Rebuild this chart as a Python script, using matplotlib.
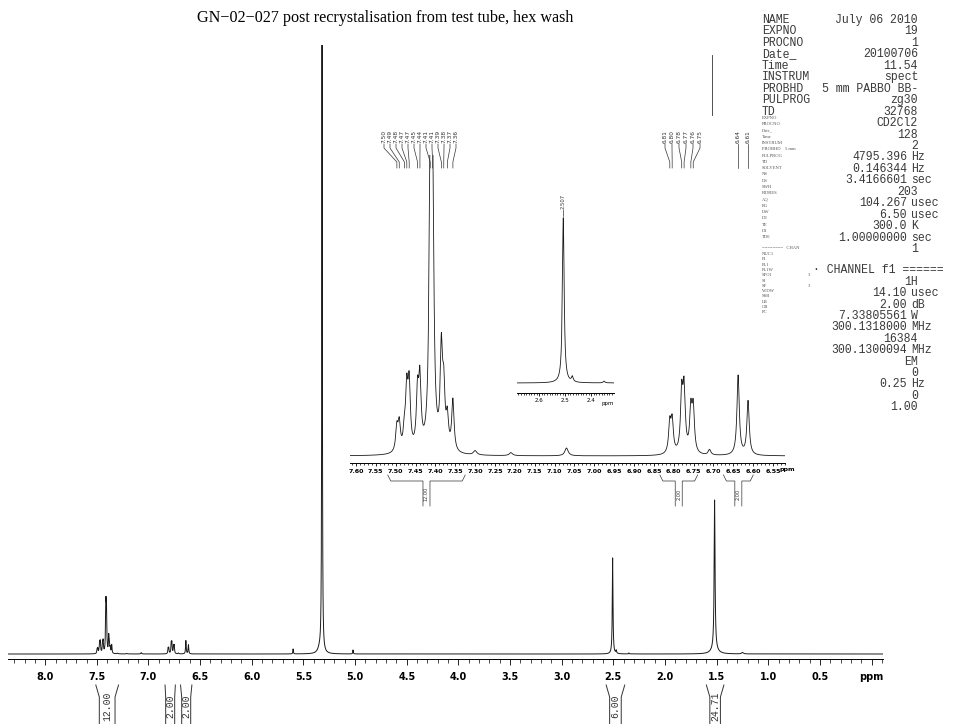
import numpy as np
import matplotlib
matplotlib.use('Agg')
import matplotlib.pyplot as plt
from matplotlib.lines import Line2D
from matplotlib.ticker import MultipleLocator, FuncFormatter

W, H = 954, 724

# peak table: shift (ppm), height (plot units), half width (ppm)
arom_ppm = [7.497, 7.491, 7.478, 7.472, 7.466, 7.445, 7.439,
            7.413, 7.407, 7.385, 7.379, 7.370, 7.356]
arom_height = [4.0, 4.5, 3.0, 9.5, 10.5, 9.0, 11.0,
               45.0, 44.0, 16.0, 9.0, 5.0, 8.5]
olef_ppm = [6.810, 6.804, 6.780, 6.774, 6.757, 6.751, 6.638, 6.613]
olef_height = [5.0, 5.3, 9.6, 10.2, 7.0, 7.3, 13.3, 9.0]
other_ppm = [5.320, 5.345, 5.600, 5.020, 2.507, 2.472, 2.350,
             1.520, 1.520, 1.250, 7.070, 7.300, 7.210, 6.710]
other_height = [900.0, 4.0, 5.0, 4.0, 96.0, 3.0, 1.0,
                148.0, 6.0, 1.5, 1.3, 0.7, 0.5, 0.9]
other_hw = [0.0025, 0.02, 0.003, 0.003, 0.004, 0.004, 0.004,
            0.005, 0.03, 0.01, 0.005, 0.005, 0.005, 0.004]

peak_ppm = arom_ppm + olef_ppm + other_ppm
peak_height = arom_height + olef_height + other_height
peak_hw = [0.0035] * (len(arom_ppm) + len(olef_ppm)) + other_hw

# picked peak labels
arom_labels = ['7.50', '7.49', '7.48', '7.47', '7.47', '7.45', '7.44',
               '7.41', '7.41', '7.39', '7.38', '7.37', '7.36']
olef_labels = ['6.81', '6.80', '6.78', '6.77', '6.76', '6.75']
olef2_labels = ['6.64', '6.61']

# integrals: (from ppm, to ppm, value)
main_integrals = [(7.51, 7.29, '12.00'), (6.84, 6.74, '2.00'),
                  (6.69, 6.58, '2.00'), (2.57, 2.39, '6.00'),
                  (1.60, 1.43, '24.71')]
inset_integrals = [(7.52, 7.325, '12.00'), (6.835, 6.74, '2.00'),
                   (6.675, 6.60, '2.00')]

title = 'GN\u221202\u2212027 post recrystalisation from test tube, hex wash'

par_names = ['NAME', 'EXPNO', 'PROCNO', 'Date_', 'Time', 'INSTRUM',
             'PROBHD', 'PULPROG', 'TD']
par_values = [('July 06 2010', ''), ('19', ''), ('1', ''), ('20100706', ''),
              ('11.54', ''), ('spect', ''), ('5 mm PABBO BB-', ''),
              ('zg30', ''), ('32768', ''), ('CD2Cl2', ''), ('128', ''),
              ('2', ''), ('4795.396', 'Hz'), ('0.146344', 'Hz'),
              ('3.4166601', 'sec'), ('203', ''), ('104.267', 'usec'),
              ('6.50', 'usec'), ('300.0', 'K'), ('1.00000000', 'sec'),
              ('1', '')]
chan_values = [('1H', ''), ('14.10', 'usec'), ('2.00', 'dB'),
               ('7.33805561', 'W'), ('300.1318000', 'MHz'), ('16384', ''),
               ('300.1300094', 'MHz'), ('EM', ''), ('0', ''),
               ('0.25', 'Hz'), ('0', ''), ('1.00', '')]
small_names = ['EXPNO', 'PROCNO', 'Date_', 'Time', 'INSTRUM',
               'PROBHD    5 mm', 'PULPROG', 'TD', 'SOLVENT', 'NS', 'DS',
               'SWH', 'FIDRES', 'AQ', 'RG', 'DW', 'DE', 'TE', 'D1', 'TD0']
small_chan = ['NUC1', 'P1', 'PL1', 'PL1W', 'SFO1', 'SI', 'SF', 'WDW',
              'SSB', 'LB', 'GB', 'PC']


def spectrum(x):
    y = np.zeros_like(x)
    for p, h, w in zip(peak_ppm, peak_height, peak_hw):
        y += h / (1.0 + ((x - p) / w) ** 2)
    return y


def box(x0, y0, x1, y1):
    # pixel box (top-left origin) -> figure fraction rect
    return [x0 / W, 1 - y1 / H, (x1 - x0) / W, (y1 - y0) / H]


def fy(py):
    return 1 - py / H


def fline(xs, ys, lw=0.6, color='#333333'):
    fig.add_artist(Line2D([x / W for x in xs], [fy(y) for y in ys],
                          transform=fig.transFigure, lw=lw, color=color))


def ftext(x, y, s, **kw):
    fig.text(x / W, fy(y), s, **kw)


def data_px(ax, ppm):
    return ax.transData.transform((ppm, 0))[0]


def style_axis(ax, major, minor, lab_size, pad, major_len, minor_len):
    for side in ['top', 'left', 'right']:
        ax.spines[side].set_visible(False)
    ax.spines['bottom'].set_linewidth(0.7)
    ax.set_yticks([])
    ax.xaxis.set_major_locator(MultipleLocator(major))
    ax.xaxis.set_minor_locator(MultipleLocator(minor))
    ax.tick_params(axis='x', which='major', length=major_len, width=0.6,
                   labelsize=lab_size, pad=pad)
    ax.tick_params(axis='x', which='minor', length=minor_len, width=0.5)
    ax.patch.set_alpha(0)


fig = plt.figure(figsize=(W / 100, H / 100), dpi=100)
fig.patch.set_facecolor('white')
line_col = '#1a1a1a'

# ---- full spectrum ----
ax = fig.add_axes(box(8, 45, 883, 659))
xs = np.linspace(-0.11, 8.36, 60000)
ax.plot(xs, spectrum(xs), color=line_col, lw=0.7)
ax.set_xlim(8.36, -0.11)
ax.set_ylim(-5, 609)
style_axis(ax, 0.5, 0.1, 7, 5.5, 4.0, 3.0)
ax.xaxis.set_major_formatter(FuncFormatter(
    lambda v, p: 'ppm' if abs(v) < 1e-6 else ('%.1f' % v if v > 0 else '')))
# leader line from the 1.5 ppm peak label
ax.plot([1.55, 1.55], [0.886, 0.984], color='#333333', lw=0.6,
        transform=ax.get_xaxis_transform(), clip_on=False)

# ---- aromatic expansion ----
axi = fig.add_axes(box(350, 155, 785, 463))
xi = np.linspace(6.52, 7.615, 20000)
axi.plot(xi, spectrum(xi), color=line_col, lw=0.6)
k_in = 6.0
axi.set_xlim(7.615, 6.52)
axi.set_ylim(-7 / k_in, 301 / k_in)
style_axis(axi, 0.05, 0.01, 4.6, 1.5, 2.5, 1.6)
axi.xaxis.set_major_formatter(FuncFormatter(lambda v, p: '%.2f' % v))
ftext(787, 470, 'ppm', fontsize=4.6, fontweight='bold', ha='center',
      va='center')

# ---- 2.5 ppm expansion ----
ax2 = fig.add_axes(box(517, 180, 614, 393))
x2 = np.linspace(2.312, 2.685, 8000)
ax2.plot(x2, spectrum(x2), color=line_col, lw=0.6)
k2 = 1.72
ax2.set_xlim(2.685, 2.312)
ax2.set_ylim(-10 / k2, 203 / k2)
style_axis(ax2, 0.1, 0.01, 4.0, 1.8, 2.0, 1.4)
ax2.xaxis.set_major_formatter(FuncFormatter(
    lambda v, p: '%.1f' % v if v > 2.35 else ''))
ftext(608, 403, 'ppm', fontsize=4.0, ha='center', va='center')

for a in (ax, axi):
    for lab in a.get_xticklabels():
        lab.set_fontweight('bold')

fig.canvas.draw()


# peak label leaders for the expansion
def peak_labels(ppms, labels, x_first, x_last):
    n = len(labels)
    lx = np.linspace(x_first, x_last, n) if n > 1 else [x_first]
    for p, s, x in zip(ppms, labels, lx):
        px = data_px(axi, p)
        ftext(x, 143, s, fontsize=4.2, rotation=90, ha='center',
              va='bottom', color='#333333')
        fline([x, x, px, px], [144, 148, 162, 168], lw=0.5)


peak_labels(arom_ppm, arom_labels, 384, 456)
peak_labels(olef_ppm[:6], olef_labels, 665, 700)
peak_labels(olef_ppm[6:], olef2_labels, data_px(axi, 6.638),
            data_px(axi, 6.613))

# label on the 2.5 ppm expansion
p2 = data_px(ax2, 2.507)
ftext(p2, 209, '2.507', fontsize=3.8, rotation=90, ha='center',
      va='bottom', color='#333333')
fline([p2, p2], [210, 216], lw=0.5)

# integrals on the expansion
for a, b, val in inset_integrals:
    x1, x2p = data_px(axi, a), data_px(axi, b)
    cx = 0.5 * (x1 + x2p)
    fline([x1, x1 + 3, cx - 3.5, cx - 3.5], [475, 481, 481, 506], lw=0.5)
    fline([x2p, x2p - 3, cx + 3.5, cx + 3.5], [475, 481, 481, 506], lw=0.5)
    ftext(cx, 494, val, fontsize=3.6, rotation=90, ha='center',
          va='center', color='#333333')

# integrals under the full spectrum
for a, b, val in main_integrals:
    x1, x2p = data_px(ax, a), data_px(ax, b)
    cx = 0.5 * (x1 + x2p)
    half = max(0.5 * (x2p - x1) - 3.5, 4.5)
    fline([x1, cx - half, cx - half], [685, 697, 724], lw=0.7)
    fline([x2p, cx + half, cx + half], [685, 697, 724], lw=0.7)
    ftext(cx, 706, val, fontsize=7, rotation=90, ha='center',
          va='center', family='Liberation Mono', color='#333333')

# title
ftext(385, 18, title, fontsize=11.6, family='Liberation Serif',
      ha='center', va='center')

# acquisition / processing parameters
mono = dict(family='Liberation Mono', fontsize=8.3, color='#3a3a3a',
            va='center')
for i, name in enumerate(par_names):
    ftext(762, 20 + 11.45 * i, name, ha='left', **mono)


def value_row(y, val, unit):
    if unit:
        ftext(907, y, val, ha='right', **mono)
        ftext(911, y, unit, ha='left', **mono)
    else:
        ftext(918, y, val, ha='right', **mono)


for i, (val, unit) in enumerate(par_values):
    value_row(20 + 11.45 * i, val, unit)
ftext(813, 270, '\u00b7 CHANNEL f1 ======', ha='left', **mono)
for j, (val, unit) in enumerate(chan_values):
    value_row(282 + 11.36 * j, val, unit)

tiny = dict(family='Liberation Serif', fontsize=3.3, color='#555555',
            va='center', ha='left')
for i, name in enumerate(small_names):
    ftext(762, 118 + 6.27 * i, name, **tiny)
ftext(762, 248, '========   CHAN', **tiny)
for j, name in enumerate(small_chan):
    ftext(762, 254 + 5.3 * j, name, **tiny)
ftext(808, 254 + 5.3 * 4, '3', **tiny)
ftext(808, 254 + 5.3 * 6, '3', **tiny)

fig.savefig('out.png', dpi=100)
